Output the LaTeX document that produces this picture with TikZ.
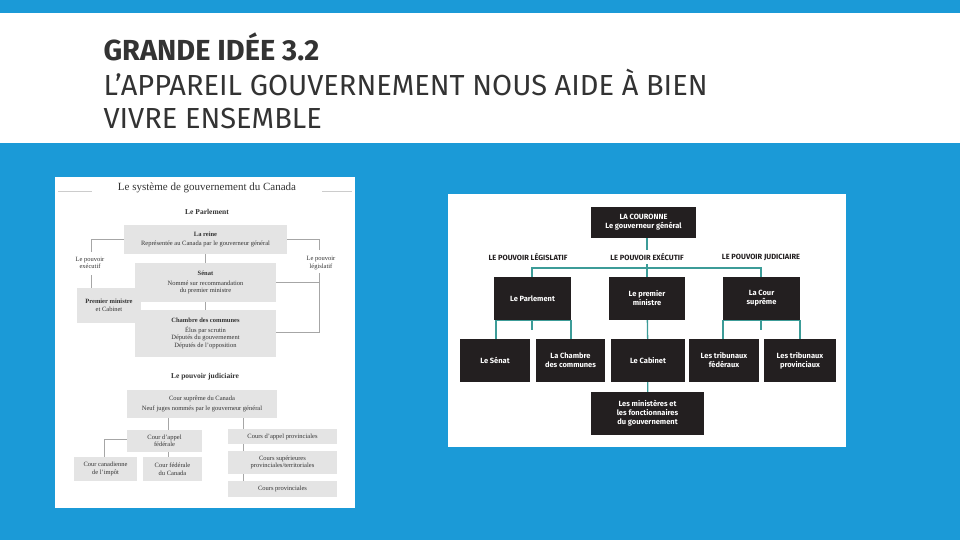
\documentclass[tikz,border=0pt]{standalone}
\usepackage{fontspec}
\setmainfont{Liberation Serif}
\newfontfamily\titlefont{Fira Sans}
\newfontfamily\chartfont{Fira Sans}
\definecolor{bgblue}{HTML}{1B9AD7}
\definecolor{lgray}{HTML}{E4E4E4}
\definecolor{dbox}{HTML}{231F20}
\definecolor{teal}{HTML}{3C9C98}
\definecolor{ltxt}{HTML}{333333}
\begin{document}
\begin{tikzpicture}[x=1pt,y=-1pt,
  gb/.style={fill=lgray,draw=none,font=\fontsize{6.5}{7.5}\selectfont,text=ltxt,align=center,inner sep=0pt},
  db/.style={fill=dbox,draw=none,text=white,font=\chartfont\bfseries\fontsize{7.5}{9}\selectfont,align=center,inner sep=0pt},
  gl/.style={draw=gray!70,line width=0.5pt},
  tl/.style={draw=teal,line width=1.3pt},
  lab/.style={font=\fontsize{6.5}{7.5}\selectfont,text=ltxt,align=center}]
\useasboundingbox (0,0) rectangle (960,540);
\fill[bgblue] (0,0) rectangle (960,540);
\fill[white] (0,13) rectangle (960,143);
\node[anchor=west,font=\titlefont\bfseries\fontsize{29}{30}\selectfont,text=black!80] (t1) at (100,47) {GRANDE IDÉE 3.2};
\node[anchor=west,font=\titlefont\fontsize{29}{33}\selectfont,text=black!80,align=left] (t2) at (100,99) {L’APPAREIL GOUVERNEMENT NOUS AIDE À BIEN\\VIVRE ENSEMBLE};
% left panel
\fill[white] (55,177) rectangle (355,508);
\draw[gray!40] (58,191) -- (92,191) (322,191) -- (352,191);
\node[font=\fontsize{11}{12}\selectfont,text=ltxt] (lt) at (207,188) {Le système de gouvernement du Canada};
\node[font=\bfseries\fontsize{7.5}{8}\selectfont,text=ltxt] (lp) at (207,212) {Le Parlement};
\node[gb,minimum width=163,minimum height=29] (reine) at (205.5,239.5) {\textbf{La reine}\\[2pt]Représentée au Canada par le gouverneur général};
\node[gb,minimum width=141,minimum height=39] (senat) at (205.5,282.5) {\textbf{Sénat}\\[2pt]Nommé sur recommandation\\du premier ministre};
\node[gb,minimum width=141,minimum height=47] (chambre) at (205.5,333.5) {\textbf{Chambre des communes}\\[2pt]Élus par scrutin\\Députés du gouvernement\\Députés de l’opposition};
\node[gb,minimum width=64,minimum height=35] (pm) at (109,305.5) {\textbf{Premier ministre}\\et Cabinet};
\node[lab] (exe) at (90,263) {Le pouvoir\\exécutif};
\node[lab] (leg) at (321,263) {Le pouvoir\\législatif};
\draw[gl] (reine.west|-0,239) -| (91,252);
\draw[gl] (91,275) -- (pm.north-|91,0);
\draw[gl] (reine.east|-0,239) -| (319,250);
\draw[gl] (319,273) |- (chambre.east|-0,332);
\draw[gl] (senat.east|-0,282) -- (319,282);
\draw[gl] (reine) -- (senat);
\draw[gl] (senat) -- (chambre);
\node[font=\bfseries\fontsize{7.5}{8}\selectfont,text=ltxt] (lj) at (205,377) {Le pouvoir judiciaire};
\node[gb,minimum width=150,minimum height=28] (cs) at (202,404) {Cour suprême du Canada\\[2pt]Neuf juges nommés par le gouverneur général};
\node[gb,minimum width=75,minimum height=22] (caf) at (164.5,441) {Cour d’appel\\fédérale};
\node[gb,minimum width=109,minimum height=15] (cap) at (282.5,436.5) {Cours d’appel provinciales};
\node[gb,minimum width=109,minimum height=23] (csp) at (282.5,462.5) {Cours supérieures\\provinciales/territoriales};
\node[gb,minimum width=109,minimum height=16] (cpv) at (282.5,489) {Cours provinciales};
\node[gb,minimum width=63,minimum height=24] (cci) at (105.5,469) {Cour canadienne\\de l’impôt};
\node[gb,minimum width=59,minimum height=24] (cfc) at (172.5,469) {Cour fédérale\\du Canada};
\draw[gl] (cs.south-|168,0) -- (caf.north-|168,0);
\draw[gl] (caf.south-|168,0) -- (cfc.north-|168,0);
\draw[gl] (caf.west|-0,439) -| (cci.north-|104,0);
\draw[gl] (cs.south-|243,0) -- (cap.north-|243,0);
\draw[gl] (cap.south-|243,0) -- (csp.north-|243,0);
\draw[gl] (csp.south-|243,0) -- (cpv.north-|243,0);
% right panel
\fill[white] (448,194) rectangle (846,447);
\node[db,minimum width=105,minimum height=31] (cour) at (643.5,222.5) {LA COURONNE\\Le gouverneur général};
\node[font=\chartfont\bfseries\fontsize{7.5}{8}\selectfont,text=dbox] (hl) at (528,257) {LE POUVOIR LÉGISLATIF};
\node[font=\chartfont\bfseries\fontsize{7.5}{8}\selectfont,text=dbox] (he) at (647,257) {LE POUVOIR EXÉCUTIF};
\node[font=\chartfont\bfseries\fontsize{7.5}{8}\selectfont,text=dbox] (hj) at (761,257) {LE POUVOIR JUDICIAIRE};
\node[db,minimum width=77,minimum height=43] (parl) at (532.5,298.5) {Le Parlement};
\node[db,minimum width=76,minimum height=43] (prm) at (647,298.5) {Le premier\\ministre};
\node[db,minimum width=77,minimum height=43] (csup) at (761.5,298.5) {La Cour\\suprême};
\node[db,minimum width=70,minimum height=43] (sen) at (495,360.5) {Le Sénat};
\node[db,minimum width=69,minimum height=43] (cha) at (570.5,360.5) {La Chambre\\des communes};
\node[db,minimum width=74,minimum height=43] (cab) at (648,360.5) {Le Cabinet};
\node[db,minimum width=70,minimum height=43] (tf) at (724,360.5) {Les tribunaux\\fédéraux};
\node[db,minimum width=72,minimum height=43] (tp) at (800,360.5) {Les tribunaux\\provinciaux};
\node[db,minimum width=113,minimum height=43] (min) at (647.5,413.5) {Les ministères et\\les fonctionnaires\\du gouvernement};
\draw[tl] (cour.south-|647,0) -- (he.north-|647,0);
\draw[tl] (he.south-|647,0) -- (prm.north-|647,0);
\draw[tl] (parl.north-|532,0) |- (647,268) -| (csup.north-|761,0);
\draw[tl] (sen.north-|496,0) |- (parl.south-|532,330) -| (cha.north-|571,0);
\draw[tl] (parl.south-|532,0) -- (532,330);
\draw[tl] (tf.north-|723,0) |- (csup.south-|761,330) -| (tp.north-|800,0);
\draw[tl] (csup.south-|761,0) -- (761,330);
\draw[tl] (prm) -- (cab);
\draw[tl] (cab) -- (min);
\end{tikzpicture}
\end{document}
